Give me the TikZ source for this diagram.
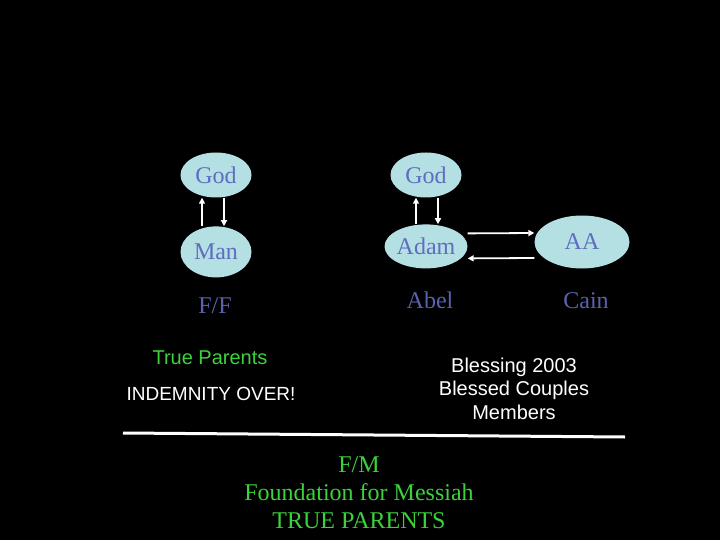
\documentclass[tikz,border=0pt]{standalone}
\usepackage{fontspec}
\setmainfont{Liberation Serif}
\setsansfont{Liberation Sans}
\usetikzlibrary{positioning, arrows.meta, shapes.geometric}
\definecolor{bubble}{HTML}{B4E0E4}
\definecolor{slate}{HTML}{5F6CC0}
\definecolor{slatedk}{HTML}{5A62AE}
\definecolor{lime}{HTML}{3CD23C}
\tikzset{
  bub/.style={ellipse, fill=bubble, text=slate, inner sep=0pt,
    minimum width=71pt, minimum height=45pt, font=\fontsize{24}{28}\selectfont},
  word/.style={text=slatedk, inner sep=0pt, anchor=base, font=\fontsize{24}{28}\selectfont},
  msg/.style={text=white, align=center, inner sep=0pt, anchor=base,
    font=\sffamily\fontsize{20}{23.5}\selectfont},
  fm/.style={text=lime, align=center, inner sep=0pt, anchor=base,
    font=\fontsize{24}{28}\selectfont},
  flow/.style={-{Triangle[length=6pt,width=6pt]}, line width=1.8pt, color=white},
}
\begin{document}
\begin{tikzpicture}[x=1pt, y=-1pt]
  \fill[black] (0,0) rectangle (720,540);
  % left: God / Man / F/F
  \node[bub] (godl) at (216,175) {God};
  \node[bub, minimum height=51pt, below=28.5pt of godl] (man) {Man};
  \node[word] (ff) at (215,313) {F/F};
  % right: God / Adam / AA, Abel / Cain
  \node[bub] (godr) at (426,175) {God};
  \node[bub, minimum height=44pt, below=26.5pt of godr] (adam) {Adam};
  \node[bub, minimum width=95pt, minimum height=53pt] (aa) at (582,242) {AA};
  \node[word] (abel) at (430,308) {Abel};
  \node[word] (cain) at (586,308) {Cain};
  \draw[flow] ([xshift=-14pt]man.north) -- ([xshift=-14pt]godl.south);
  \draw[flow] ([xshift=8pt]godl.south) -- ([xshift=8pt]man.north);
  \draw[flow] ([xshift=-10pt]adam.north) -- ([xshift=-10pt]godr.south);
  \draw[flow] ([xshift=12pt]godr.south) -- ([xshift=12pt]adam.north);
  \draw[flow] ([yshift=13pt]adam.east) -- ([yshift=9pt]aa.west);
  \draw[flow] ([yshift=-16pt]aa.west) -- ([yshift=-12pt]adam.east);
  % notes (base = last line)
  \node[msg, text=lime] (tp) at (210,364) {True Parents};
  \node[msg, font=\sffamily\fontsize{19}{23}\selectfont] (over) at (211,400) {INDEMNITY OVER!};
  \node[msg] (bless) at (514,419) {Blessing 2003\\Blessed Couples\\Members};
  % rule and foundation
  \coordinate (ruleL) at (123,433);
  \coordinate (ruleR) at (625,437);
  \draw[white, line width=3pt] (ruleL) -- (ruleR);
  \node[fm] (found) at (359,528) {F/M\\Foundation for Messiah\\TRUE PARENTS};
\end{tikzpicture}
\end{document}
